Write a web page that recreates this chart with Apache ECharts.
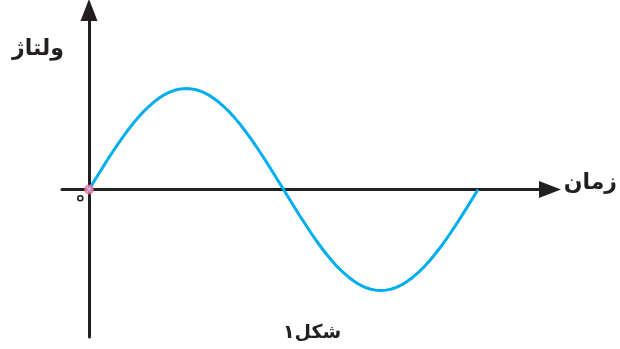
<!DOCTYPE html>
<html>
<head>
<meta charset="utf-8">
<script src="https://cdn.jsdelivr.net/npm/echarts@6/dist/echarts.min.js"></script>
<style>
  html, body { margin: 0; padding: 0; background: #fff; }
  #chart { width: 620px; height: 349px; }
</style>
</head>
<body>
<div id="chart"></div>
<script>
// داده‌های منحنی (زمان بر حسب درجه، ولتاژ نسبی)
var times = [0, 5, 10, 15, 20, 25, 30, 35, 40, 45, 50, 55, 60, 65, 70, 75, 80, 85, 90,
             95, 100, 105, 110, 115, 120, 125, 130, 135, 140, 145, 150, 155, 160, 165, 170, 175, 180,
             185, 190, 195, 200, 205, 210, 215, 220, 225, 230, 235, 240, 245, 250, 255, 260, 265, 270,
             275, 280, 285, 290, 295, 300, 305, 310, 315, 320, 325, 330, 335, 340, 345, 350, 355, 360];
var volts = [0, 0.087, 0.174, 0.259, 0.342, 0.423, 0.5, 0.574, 0.643, 0.707, 0.766, 0.819, 0.866, 0.906, 0.94, 0.966, 0.985, 0.996, 1,
             0.996, 0.985, 0.966, 0.94, 0.906, 0.866, 0.819, 0.766, 0.707, 0.643, 0.574, 0.5, 0.423, 0.342, 0.259, 0.174, 0.087, 0,
             -0.087, -0.174, -0.259, -0.342, -0.423, -0.5, -0.574, -0.643, -0.707, -0.766, -0.819, -0.866, -0.906, -0.94, -0.966, -0.985, -0.996, -1,
             -0.996, -0.985, -0.966, -0.94, -0.906, -0.866, -0.819, -0.766, -0.707, -0.643, -0.574, -0.5, -0.423, -0.342, -0.259, -0.174, -0.087, 0];

var yLabel = 'ولتاژ';
var xLabel = 'زمان';
var caption = 'شکل۱';
var originLabel = '۰';

window.onload = function () {
    var chart = echarts.init(document.getElementById('chart'));

    var points = [];
    for (var i = 0; i < times.length; i++) {
        points.push([times[i], volts[i]]);
    }

    var axisColor = '#231f20';
    var font = "'DejaVu Sans', sans-serif";

    var option = {
        animation: false,
        grid: { left: 62, right: 70, top: 10, bottom: 12 },
        xAxis: {
            type: 'value',
            min: -25,
            max: 426.6,
            axisLine: {
                onZero: true,
                symbol: ['none', 'triangle'],
                symbolSize: [17, 22],
                lineStyle: { color: axisColor, width: 3 }
            },
            axisTick: { show: false },
            axisLabel: { show: false },
            splitLine: { show: false }
        },
        yAxis: {
            type: 'value',
            min: -1.46,
            max: 1.777,
            axisLine: {
                onZero: true,
                symbol: ['none', 'triangle'],
                symbolSize: [17, 22],
                lineStyle: { color: axisColor, width: 3 }
            },
            axisTick: { show: false },
            axisLabel: { show: false },
            splitLine: { show: false }
        },
        graphic: [
            { type: 'text', left: 12, top: 38,
              style: { text: yLabel, font: 'bold 22px ' + font, fill: axisColor } },
            { type: 'text', right: 3, top: 172,
              style: { text: xLabel, font: 'bold 22px ' + font, fill: axisColor } },
            { type: 'text', left: 283, top: 324,
              style: { text: caption, font: 'bold 19px ' + font, fill: axisColor } },
            // صفر فارسی به صورت دایره‌ی توخالی
            { type: 'text', left: 77, top: 195,
              style: { text: originLabel, font: '5px ' + font, fill: 'rgba(0,0,0,0)',
                       width: 5, height: 5, lineHeight: 5, align: 'center',
                       borderColor: axisColor, borderWidth: 1.6, borderRadius: 5 } }
        ],
        series: [
            {
                type: 'line',
                data: points,
                smooth: false,
                showSymbol: false,
                lineStyle: { color: '#00aeef', width: 3, join: 'round' },
                z: 3
            },
            {
                type: 'scatter',
                data: [[0, 0]],
                symbolSize: 10,
                itemStyle: {
                    color: {
                        type: 'radial', x: 0.5, y: 0.5, r: 0.5,
                        colorStops: [
                            { offset: 0, color: '#fde3ee' },
                            { offset: 1, color: '#ec4f97' }
                        ]
                    }
                },
                z: 4
            }
        ]
    };

    chart.setOption(option);
};
</script>
</body>
</html>
